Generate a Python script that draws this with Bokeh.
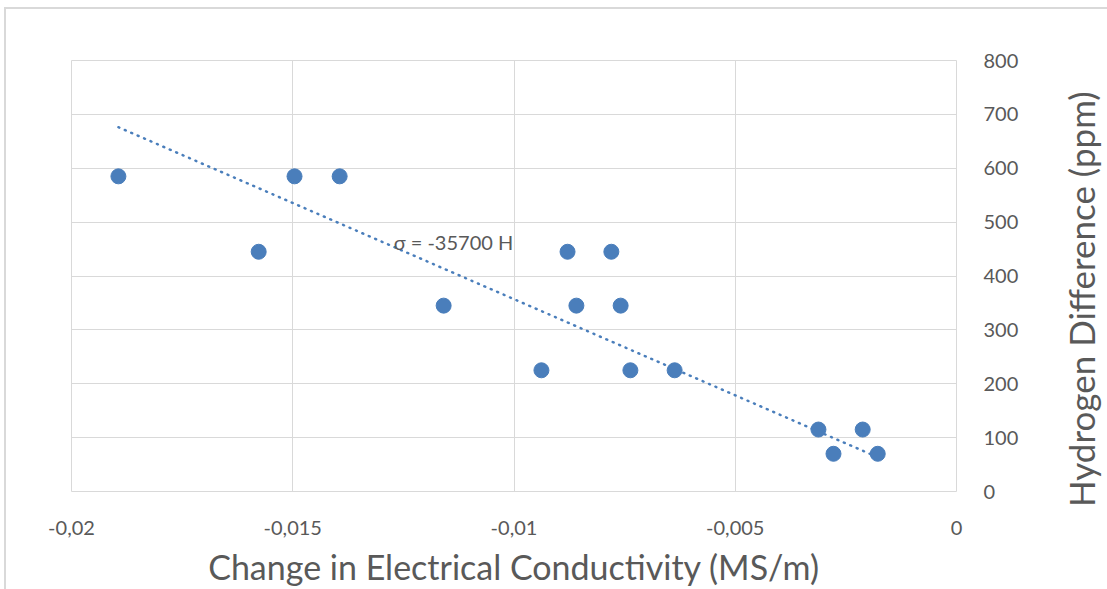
from bokeh.plotting import figure
from bokeh.layouts import row
from bokeh.models import Range1d, FixedTicker, ColumnDataSource, InlineStyleSheet, Div
from bokeh.core.properties import value
from bokeh.embed import file_html
from bokeh.resources import INLINE

# Data
conductivity = [-0.01894, -0.01577, -0.01496, -0.01394, -0.01159, -0.00938,
                -0.00879, -0.00859, -0.00780, -0.00759, -0.00737, -0.00637,
                -0.00312, -0.00278, -0.00212, -0.00178]
hydrogen = [585, 445, 585, 585, 345, 225, 445, 345, 445, 345, 225, 225,
            115, 70, 115, 70]
trend_slope = -35700  # sigma = -35700 H (trendline through origin)
trend_x = [min(conductivity), max(conductivity)]
trend_y = [trend_slope * x for x in trend_x]
x_ticks = [-0.02, -0.015, -0.01, -0.005, 0]
x_tick_labels = ["-0,02", "-0,015", "-0,01", "-0,005", "0"]
y_ticks = [0, 100, 200, 300, 400, 500, 600, 700, 800]
x_title = "Change in Electrical Conductivity (MS/m)"
y_title = "Hydrogen Difference (ppm)"
equation_label = "σ = -35700 H"
equation_pos = (-0.01272, 464)

FONT = "Lato"
TXT = "#595959"
GRID = "#d9d9d9"
BLUE = "#4a7ebb"

p = figure(width=1045, height=589, output_backend="svg", toolbar_location=None,
           x_range=Range1d(-0.02, 0), y_range=Range1d(0, 800),
           y_axis_location="right",
           min_border_left=71, min_border_right=89,
           min_border_top=60, min_border_bottom=95)

p.background_fill_color = "white"
p.border_fill_color = "white"
p.outline_line_color = GRID

p.xaxis.ticker = FixedTicker(ticks=x_ticks)
p.yaxis.ticker = FixedTicker(ticks=y_ticks)
p.xaxis.major_label_overrides = {t: l for t, l in zip(x_ticks, x_tick_labels)}
p.xgrid.ticker = FixedTicker(ticks=x_ticks)
p.ygrid.ticker = FixedTicker(ticks=y_ticks)
p.grid.grid_line_color = GRID
p.grid.grid_line_width = 1

for ax in (p.xaxis, p.yaxis):
    ax.axis_line_color = None
    ax.major_tick_line_color = None
    ax.minor_tick_line_color = None
    ax.major_label_text_font = FONT
    ax.major_label_text_font_size = "20px"
    ax.major_label_text_color = TXT
    ax.axis_label_text_font = FONT
    ax.axis_label_text_font_size = "34px"
    ax.axis_label_text_font_style = "normal"
    ax.axis_label_text_color = TXT

p.xaxis.axis_label = x_title
p.xaxis.major_label_standoff = 23
p.xaxis.axis_label_standoff = 8
p.yaxis.major_label_standoff = 21

p.line(trend_x, trend_y, line_color=BLUE, line_width=2.5, line_dash="1 6",
       line_cap="round")

src = ColumnDataSource(dict(x=conductivity, y=hydrogen))
p.scatter("x", "y", source=src, size=15, fill_color=BLUE, line_color=BLUE)

p.text(x=[equation_pos[0]], y=[equation_pos[1]], text=[equation_label],
       text_font=value(FONT), text_font_size="20px", text_color=TXT,
       text_baseline="middle", text_align="left")

# right-hand axis title, reading bottom to top
ytitle = Div(text=y_title, width=62, height=589, styles={
    "writing-mode": "vertical-rl",
    "transform": "rotate(180deg)",
    "display": "flex",
    "align-items": "center",
    "justify-content": "center",
    "white-space": "nowrap",
    "font-family": FONT,
    "font-size": "35px",
    "color": TXT,
    "background": "white",
})

layout = row(p, ytitle, spacing=0)
# outer chart border (top and left edges visible in the picture)
layout.stylesheets = [InlineStyleSheet(css=(
    ":host { position: relative; }"
    ":host::after { content: ''; position: absolute; left: 4px; top: 7px; "
    "right: -10px; bottom: -10px; border: 2px solid #d9d9d9; "
    "pointer-events: none; box-sizing: border-box; }"))]

open("out.html", "w").write(file_html(layout, INLINE))
